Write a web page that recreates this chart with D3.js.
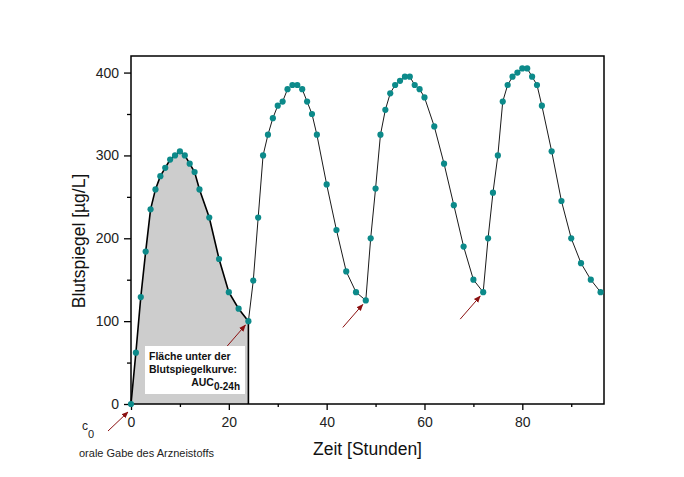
<!DOCTYPE html>
<html>
<head>
<meta charset="utf-8">
<script src="https://cdn.jsdelivr.net/npm/d3@7"></script>
<style>
  html, body { margin: 0; padding: 0; background: #fff; }
  svg { display: block; font-family: "Liberation Sans", Arial, sans-serif; }
</style>
</head>
<body>
<svg id="chart" width="684" height="477"></svg>
<script>
// Messwerte: Zeit [h] und Blutspiegel [µg/L]
const hours = [0, 1, 2, 3, 4, 5, 6, 7, 8, 9, 10, 11, 12, 13, 14, 16, 18, 20, 22, 24,
  25, 26, 27, 28, 29, 30, 31, 32, 33, 34, 35, 36, 37, 38, 40, 42, 44, 46, 48,
  49, 50, 51, 52, 53, 54, 55, 56, 57, 58, 59, 60, 62, 64, 66, 68, 70, 72,
  73, 74, 75, 76, 77, 78, 79, 80, 81, 82, 83, 84, 86, 88, 90, 92, 94, 96];
const levels = [0, 62, 129, 184, 235, 259, 275, 285, 295, 300, 305, 300, 290, 280, 259, 225, 175, 135, 115, 100,
  149, 225, 300, 325, 345, 360, 365, 380, 385, 385, 380, 365, 350, 325, 265, 210, 160, 135, 125,
  200, 260, 325, 355, 375, 385, 390, 395, 395, 385, 380, 370, 335, 290, 240, 190, 150, 135,
  200, 255, 300, 365, 385, 395, 400, 405, 405, 395, 385, 360, 305, 245, 200, 170, 150, 135];

const xMajor = [0, 20, 40, 60, 80];
const xMinor = [10, 30, 50, 70, 90];
const yMajor = [0, 100, 200, 300, 400];
const yMinor = [50, 150, 250, 350];

const aucEnd = 24;              // Ende der AUC-Fläche
const arrowHours = [0, 24, 48, 72]; // Zeitpunkte der Gaben

const data = hours.map((h, i) => ({ h, v: levels[i] }));

const svg = d3.select('#chart');
const m = { t: 56, r: 80, b: 73, l: 131 };
const W = 684, H = 477;

const x = d3.scaleLinear().domain([0, 96.7]).range([m.l, W - m.r]);
const y = d3.scaleLinear().domain([0, 420]).range([H - m.b, m.t]);

// Fläche unter der Kurve 0-24h
const aucData = data.filter(d => d.h <= aucEnd);
svg.append('path')
  .datum(aucData)
  .attr('d', d3.area().x(d => x(d.h)).y0(y(0)).y1(d => y(d.v)))
  .attr('fill', '#cdcdcd');

svg.append('line')
  .attr('x1', x(aucEnd)).attr('x2', x(aucEnd))
  .attr('y1', y(aucData[aucData.length - 1].v)).attr('y2', y(0))
  .attr('stroke', '#000').attr('stroke-width', 1.6);

// Kurve
const line = d3.line().x(d => x(d.h)).y(d => y(d.v));
svg.append('path')
  .datum(data.filter(d => d.h >= aucEnd))
  .attr('d', line)
  .attr('fill', 'none').attr('stroke', '#1a1a1a').attr('stroke-width', 1);
svg.append('path')
  .datum(aucData)
  .attr('d', line)
  .attr('fill', 'none').attr('stroke', '#000').attr('stroke-width', 1.6);

// Achsen
const styleAxis = g => {
  g.select('.domain').remove();
  g.selectAll('line').attr('stroke', '#000').attr('stroke-width', 1.3);
  g.selectAll('text').attr('fill', '#222').style('font-size', '14px')
    .style('font-family', '"Liberation Sans", Arial, sans-serif');
};

svg.append('g').attr('transform', `translate(0,${H - m.b})`)
  .call(d3.axisBottom(x).tickValues(xMajor).tickSize(6).tickPadding(7))
  .call(styleAxis);
svg.append('g').attr('transform', `translate(0,${H - m.b})`)
  .call(d3.axisBottom(x).tickValues(xMinor).tickSize(3).tickFormat(''))
  .call(styleAxis);
svg.append('g').attr('transform', `translate(${m.l},0)`)
  .call(d3.axisLeft(y).tickValues(yMajor).tickSize(7).tickPadding(5))
  .call(styleAxis);
svg.append('g').attr('transform', `translate(${m.l},0)`)
  .call(d3.axisLeft(y).tickValues(yMinor).tickSize(4).tickFormat(''))
  .call(styleAxis);

// Rahmen
svg.append('rect')
  .attr('x', m.l).attr('y', m.t)
  .attr('width', W - m.l - m.r).attr('height', H - m.t - m.b)
  .attr('fill', 'none').attr('stroke', '#000').attr('stroke-width', 1.5);

// Punkte
svg.append('g').selectAll('circle')
  .data(data)
  .join('circle')
  .attr('cx', d => x(d.h)).attr('cy', d => y(d.v))
  .attr('r', 3.1)
  .attr('fill', '#0c8a8a');

// Pfeile
svg.append('defs').append('marker')
  .attr('id', 'head').attr('viewBox', '0 0 10 10')
  .attr('refX', 9).attr('refY', 5)
  .attr('markerWidth', 7).attr('markerHeight', 7)
  .attr('orient', 'auto')
  .append('path').attr('d', 'M0,1 L10,5 L0,9 Z').attr('fill', '#8b1010');

arrowHours.forEach(h => {
  const p = data.find(d => d.h === h);
  const px = x(p.h), py = y(p.v);
  const dy = h === 0 ? 8 : 4;
  svg.append('line')
    .attr('x1', px - 23).attr('y1', py + 27)
    .attr('x2', px - 3).attr('y2', py + dy)
    .attr('stroke', '#8b1010').attr('stroke-width', 1)
    .attr('marker-end', 'url(#head)');
});

// Textbox AUC
svg.append('rect')
  .attr('x', 145).attr('y', 346).attr('width', 100).attr('height', 48)
  .attr('fill', '#fff');
const box = svg.append('g').style('font-weight', 'bold').style('font-size', '10.5px').attr('fill', '#111');
box.append('text').attr('x', 149).attr('y', 359.5).text('Fläche unter der');
box.append('text').attr('x', 149).attr('y', 372.5).text('Blutspiegelkurve:');
const auc = box.append('text').attr('x', 240).attr('y', 386).attr('text-anchor', 'end');
auc.append('tspan').text('AUC');
auc.append('tspan').attr('dy', 4).style('font-size', '10px').text('0-24h');

// c0 und Beschriftung
const c0 = svg.append('text').attr('x', 82).attr('y', 430).attr('fill', '#222').style('font-size', '12px');
c0.append('tspan').text('c');
c0.append('tspan').attr('dy', 8).style('font-size', '11px').text('0');

svg.append('text').attr('x', 79).attr('y', 457).attr('fill', '#222')
  .style('font-size', '11px').text('orale Gabe des Arzneistoffs');

// Achsentitel
svg.append('text')
  .attr('x', (m.l + W - m.r) / 2).attr('y', 455)
  .attr('text-anchor', 'middle').attr('fill', '#111')
  .style('font-size', '17.5px').text('Zeit [Stunden]');
svg.append('text')
  .attr('transform', 'translate(84.5,241) rotate(-90)')
  .attr('text-anchor', 'middle').attr('fill', '#111')
  .style('font-size', '17.5px').text('Blutspiegel [µg/L]');
</script>
</body>
</html>
